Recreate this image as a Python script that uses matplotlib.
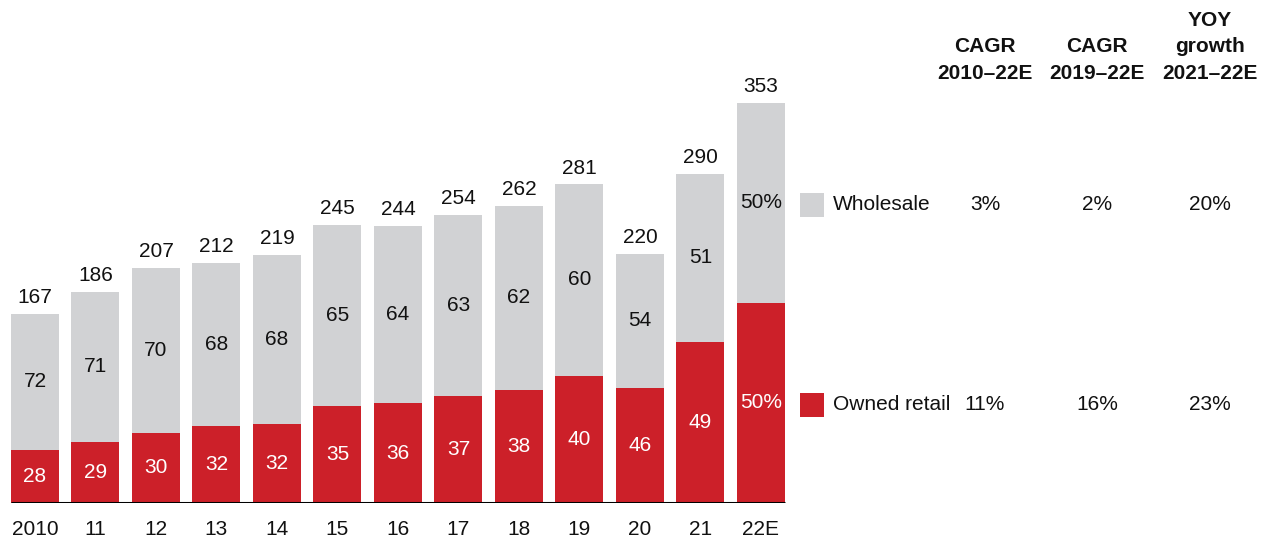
import matplotlib
matplotlib.use("Agg")
import matplotlib.pyplot as plt
from matplotlib.patches import Rectangle

plt.rcParams['font.family'] = ['Liberation Sans', 'DejaVu Sans']

years = ['2010', '11', '12', '13', '14', '15', '16', '17', '18', '19', '20', '21', '22E']
totals = [167, 186, 207, 212, 219, 245, 244, 254, 262, 281, 220, 290, 353]
owned_share = [28, 29, 30, 32, 32, 35, 36, 37, 38, 40, 46, 49, 50]
wholesale_share = [72, 71, 70, 68, 68, 65, 64, 63, 62, 60, 54, 51, 50]

series_names = ['Wholesale', 'Owned retail']
col_headers = ['CAGR\n2010–22E', 'CAGR\n2019–22E', 'YOY\ngrowth\n2021–22E']
wholesale_growth = ['3%', '2%', '20%']
owned_growth = ['11%', '16%', '23%']

RED = '#CC2029'
GREY = '#D1D2D4'
TXT = '#111111'

W, H = 1270, 542
fig = plt.figure(figsize=(W / 100, H / 100), dpi=100)

# axes spans full width; pixel geometry: bar centres at 35 + 60.5*i, baseline y=503
pitch = 60.5
base_px = 503
ax = fig.add_axes([0, (H - base_px) / H, 1, base_px / H])
ax.set_xlim(-35 / pitch, (W - 35) / pitch)
ax.set_ylim(0, base_px / 1.134)
for s in ax.spines.values():
    s.set_visible(False)
ax.set_yticks([])

x = list(range(len(years)))
bw = 48 / pitch
owned_vals = [t * s / 100 for t, s in zip(totals, owned_share)]
whole_vals = [t * s / 100 for t, s in zip(totals, wholesale_share)]

ax.bar(x, owned_vals, width=bw, color=RED, linewidth=0)
ax.bar(x, whole_vals, width=bw, bottom=owned_vals, color=GREY, linewidth=0)
ax.hlines(0, -bw / 2, len(years) - 1 + bw / 2, color='black', linewidth=2.2, zorder=5)

last = len(years) - 1
for i in x:
    o_lbl = f"{owned_share[i]}%" if i == last else f"{owned_share[i]}"
    w_lbl = f"{wholesale_share[i]}%" if i == last else f"{wholesale_share[i]}"
    ax.text(i, owned_vals[i] / 2, o_lbl, ha='center', va='center', color='white', fontsize=15)
    ax.text(i, owned_vals[i] + whole_vals[i] / 2, w_lbl, ha='center', va='center', color=TXT, fontsize=15)
    ax.text(i, totals[i] + 6, f"{totals[i]}", ha='center', va='bottom', color=TXT, fontsize=15)

ax.set_xticks(x)
ax.set_xticklabels(years, fontsize=15, color=TXT)
ax.tick_params(axis='x', length=0, pad=12)

def fx(px):
    return px / W

def fy(py):
    return 1 - py / H

# legend
sq = 24
for name, col, yc in [(series_names[0], GREY, 205), (series_names[1], RED, 405)]:
    fig.patches.append(Rectangle((fx(800), fy(yc + sq / 2)), sq / W, sq / H,
                                 transform=fig.transFigure, color=col, linewidth=0))
    fig.text(fx(833), fy(yc), name, ha='left', va='center', fontsize=15, color=TXT)

# table
col_x = [985, 1097, 1210]
for cx, hdr, wg, og in zip(col_x, col_headers, wholesale_growth, owned_growth):
    fig.text(fx(cx), fy(83), hdr, ha='center', va='bottom', fontsize=15,
             fontweight='bold', color=TXT, linespacing=1.5)
    fig.text(fx(cx), fy(205), wg, ha='center', va='center', fontsize=15, color=TXT)
    fig.text(fx(cx), fy(405), og, ha='center', va='center', fontsize=15, color=TXT)

fig.savefig('out.png', dpi=100)
